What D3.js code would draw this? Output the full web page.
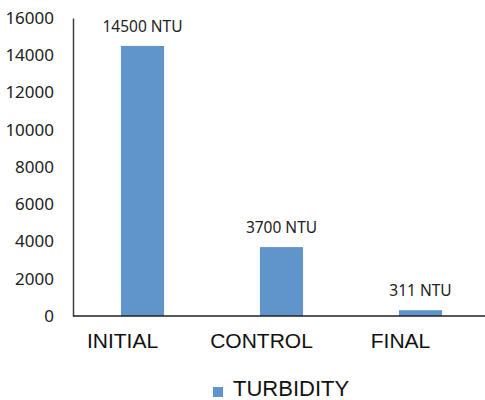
<!DOCTYPE html>
<html><head><meta charset="utf-8">
<script src="https://cdn.jsdelivr.net/npm/d3@7"></script>
<style>body{margin:0;background:#fff}svg{display:block}</style>
</head><body>
<script>
const categories = ["INITIAL", "CONTROL", "FINAL"];
const turbidity = [14500, 3700, 311];
const dataLabels = ["14500 NTU", "3700 NTU", "311 NTU"];
const yTicks = [0, 2000, 4000, 6000, 8000, 10000, 12000, 14000, 16000];
const seriesName = "TURBIDITY";

const W = 485, H = 400;
const svg = d3.select("body").append("svg").attr("width", W).attr("height", H);
const x = d3.scaleBand().domain(categories).range([73, 490]).padding(0);
const y = d3.scaleLinear().domain([0, 16000]).range([316, 18]);
const barW = x.bandwidth() * 0.31;
const color = "#5f95cb";

// y axis
const ya = svg.append("g").attr("transform", "translate(73,0)")
  .call(d3.axisLeft(y).tickValues(yTicks).tickSize(0).tickPadding(19).tickFormat(d3.format("d")));
ya.select(".domain").attr("stroke", "#404040").attr("stroke-width", 1.5);
ya.selectAll("text").attr("font-family", "'Noto Sans', sans-serif").attr("font-size", 17).attr("fill", "#222");

// bars
svg.selectAll("rect.bar").data(turbidity).join("rect").attr("class", "bar")
  .attr("x", (d, i) => x(categories[i]) + x.bandwidth() / 2 - barW / 2)
  .attr("y", d => y(d)).attr("width", barW).attr("height", d => y(0) - y(d))
  .attr("fill", color);

// data labels
svg.selectAll("text.lbl").data(turbidity).join("text").attr("class", "lbl")
  .attr("x", (d, i) => x(categories[i]) + x.bandwidth() / 2)
  .attr("y", d => y(d) - 14)
  .attr("text-anchor", "middle")
  .attr("font-family", "'Noto Sans', sans-serif").attr("font-size", 15.5).attr("fill", "#222")
  .text((d, i) => dataLabels[i]);

// x axis
const xa = svg.append("g").attr("transform", `translate(0,${y(0)})`)
  .call(d3.axisBottom(x).tickSize(0).tickPadding(16));
xa.select(".domain").attr("d", `M73,0H485`).attr("stroke", "#202020").attr("stroke-width", 1.5);
xa.selectAll("text").attr("font-family", "'Liberation Sans', Arial, sans-serif").attr("font-size", 21)
  .attr("fill", "#111").attr("dx", -20).attr("dy", null).attr("y", 32);

// legend
const lg = svg.append("g");
lg.append("rect").attr("x", 213).attr("y", 387).attr("width", 10).attr("height", 10).attr("fill", color);
lg.append("text").attr("x", 233).attr("y", 396)
  .attr("font-family", "'Liberation Sans', Arial, sans-serif").attr("font-size", 22).attr("fill", "#111")
  .text(seriesName);
</script>
</body></html>
